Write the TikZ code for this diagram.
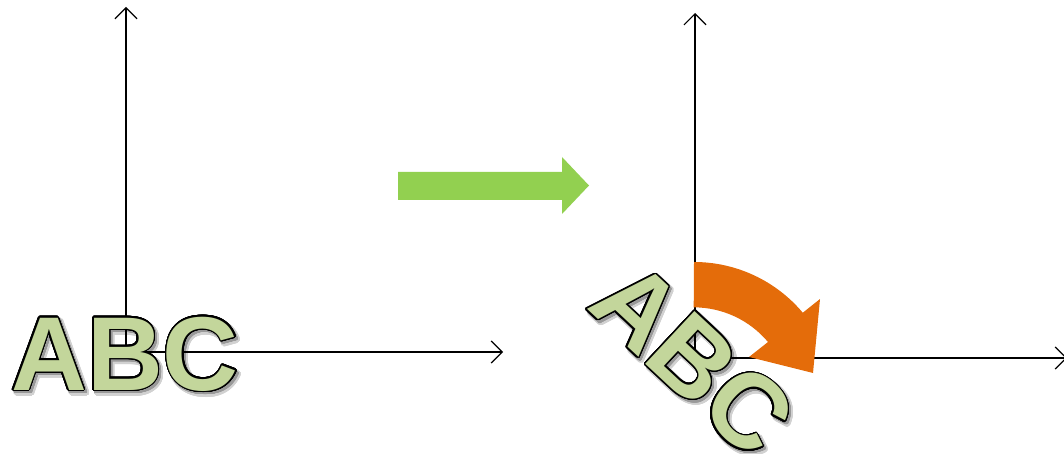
\documentclass[tikz,border=0pt]{standalone}
\usepackage{fontspec}
\usepackage{contour}
\usetikzlibrary{arrows.meta}
\newfontfamily\abcfont{Liberation Sans}
\contournumber{32}
\definecolor{lettergreen}{HTML}{C3D69B}
\definecolor{arrowgreen}{HTML}{92D050}
\definecolor{rotorange}{HTML}{E46C0A}
\begin{document}
\begin{tikzpicture}[x=1pt,y=-1pt,
  axis/.style={line width=1.2pt, -{Straight Barb[length=11pt,width=22pt,line width=1.2pt]}},
  abc/.style={inner sep=0pt, anchor=base west, font=\abcfont\bfseries\fontsize{105}{105}\selectfont},
  shadowsoft/.style={abc, text=black!18},
  shadowcore/.style={abc, text=black!40},
  letters/.style={abc, text=lettergreen}]
\useasboundingbox (0,0) rectangle (1064,454);
% coordinates of axes
\coordinate (O1) at (126,352);
\coordinate (Y1) at (126,7);
\coordinate (X1) at (503,352);
\coordinate (O2) at (695,358);
\coordinate (Y2) at (695,13);
\coordinate (X2) at (1067,358);
% shadows
\node[shadowsoft] (s1a) at (14,393.5) {\contourlength{2.6pt}\contour{black!18}{ABC}};
\node[shadowcore] (s1b) at (13,392.5) {\contourlength{1.3pt}\contour{black!40}{ABC}};
\node[shadowsoft, rotate=-43] (s2a) at (588,310.9) {\contourlength{2.6pt}\contour{black!18}{ABC}};
\node[shadowcore, rotate=-43] (s2b) at (587,309.9) {\contourlength{1.3pt}\contour{black!40}{ABC}};
% axes
\draw[axis] (O1) -- (Y1);
\draw[axis] (O1) -- (X1);
\draw[axis] (O2) -- (Y2);
\draw[axis] (O2) -- (X2);
% green block arrow
\fill[arrowgreen] (398,172) -- (562,172) -- (562,157) -- (589,185.5) -- (562,214) -- (562,200) -- (398,200) -- cycle;
% orange curved arrow
\fill[rotorange] (694,262) arc[start angle=270,end angle=320,radius=142]
  -- (820,299) -- (813,373) -- (749,357) -- (768,342)
  arc[start angle=320,end angle=270,radius=97] -- cycle;
% letters
\node[letters] (t1) at (11,390) {\contourlength{1.4pt}\contour{black}{ABC}};
\node[letters, rotate=-43] (t2) at (585,307.4) {\contourlength{1.4pt}\contour{black}{ABC}};
\end{tikzpicture}
\end{document}
